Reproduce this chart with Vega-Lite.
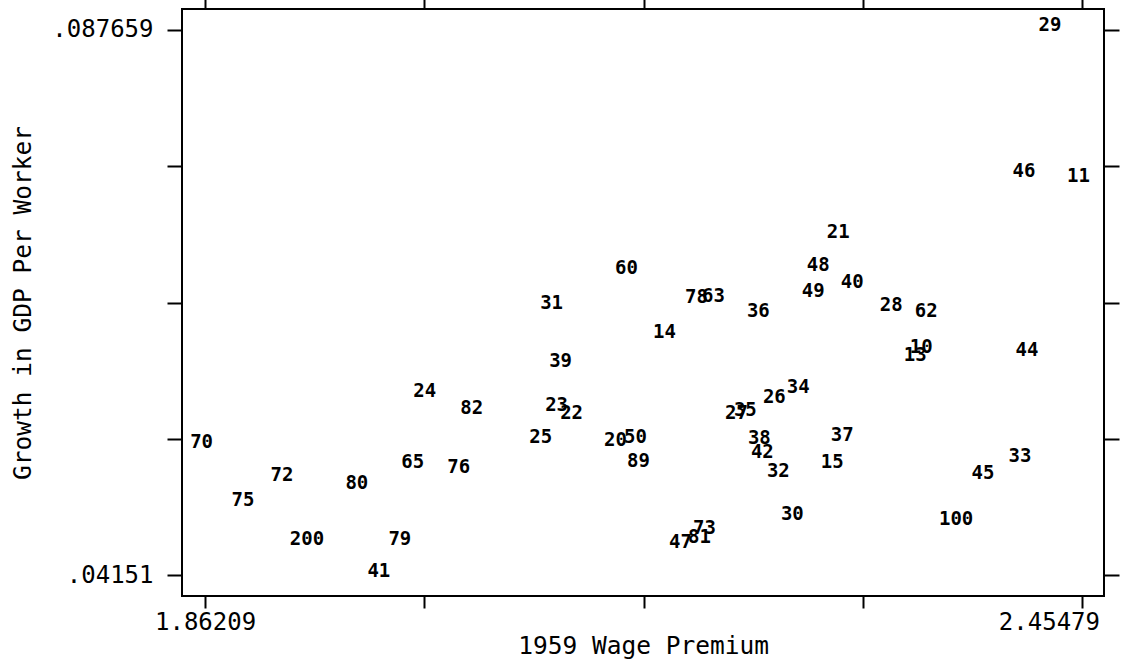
{
  "$schema": "https://vega.github.io/schema/vega-lite/v6.json",
  "width": 922,
  "height": 587,
  "autosize": "none",
  "padding": {"left": 182, "top": 9, "right": 19, "bottom": 69},
  "background": "white",
  "config": {
    "view": {"stroke": "black", "strokeWidth": 2},
    "font": "DejaVu Sans Mono",
    "axis": {
      "domain": false,
      "grid": false,
      "ticks": true,
      "tickColor": "black",
      "tickWidth": 2,
      "labelFont": "DejaVu Sans Mono",
      "labelFontSize": 24,
      "labelColor": "black",
      "labelOverlap": false,
      "labelFlush": false,
      "titleFont": "DejaVu Sans Mono",
      "titleFontSize": 24.5,
      "titleFontWeight": "normal",
      "titleColor": "black"
    }
  },
  "data": {
    "values": [
      {"label": "29", "wage_premium_1959": 2.43555, "gdp_growth": 0.087659},
      {"label": "46", "wage_premium_1959": 2.41800, "gdp_growth": 0.075338},
      {"label": "11", "wage_premium_1959": 2.45479, "gdp_growth": 0.074915},
      {"label": "21", "wage_premium_1959": 2.29244, "gdp_growth": 0.070173},
      {"label": "48", "wage_premium_1959": 2.27894, "gdp_growth": 0.067379},
      {"label": "40", "wage_premium_1959": 2.30189, "gdp_growth": 0.065939},
      {"label": "49", "wage_premium_1959": 2.27556, "gdp_growth": 0.065177},
      {"label": "60", "wage_premium_1959": 2.14933, "gdp_growth": 0.067125},
      {"label": "31", "wage_premium_1959": 2.09870, "gdp_growth": 0.064161},
      {"label": "78", "wage_premium_1959": 2.19658, "gdp_growth": 0.064669},
      {"label": "63", "wage_premium_1959": 2.20806, "gdp_growth": 0.064754},
      {"label": "36", "wage_premium_1959": 2.23844, "gdp_growth": 0.063484},
      {"label": "28", "wage_premium_1959": 2.32822, "gdp_growth": 0.063992},
      {"label": "62", "wage_premium_1959": 2.35185, "gdp_growth": 0.063484},
      {"label": "14", "wage_premium_1959": 2.17498, "gdp_growth": 0.061705},
      {"label": "39", "wage_premium_1959": 2.10477, "gdp_growth": 0.059250},
      {"label": "10", "wage_premium_1959": 2.34847, "gdp_growth": 0.060435},
      {"label": "13", "wage_premium_1959": 2.34442, "gdp_growth": 0.059758},
      {"label": "44", "wage_premium_1959": 2.42003, "gdp_growth": 0.060181},
      {"label": "24", "wage_premium_1959": 2.01297, "gdp_growth": 0.056710},
      {"label": "82", "wage_premium_1959": 2.04469, "gdp_growth": 0.055270},
      {"label": "23", "wage_premium_1959": 2.10207, "gdp_growth": 0.055524},
      {"label": "22", "wage_premium_1959": 2.11220, "gdp_growth": 0.054847},
      {"label": "34", "wage_premium_1959": 2.26544, "gdp_growth": 0.057048},
      {"label": "26", "wage_premium_1959": 2.24924, "gdp_growth": 0.056201},
      {"label": "27", "wage_premium_1959": 2.22358, "gdp_growth": 0.054847},
      {"label": "35", "wage_premium_1959": 2.22966, "gdp_growth": 0.055101},
      {"label": "25", "wage_premium_1959": 2.09127, "gdp_growth": 0.052814},
      {"label": "20", "wage_premium_1959": 2.14190, "gdp_growth": 0.052560},
      {"label": "50", "wage_premium_1959": 2.15540, "gdp_growth": 0.052814},
      {"label": "38", "wage_premium_1959": 2.23911, "gdp_growth": 0.052730},
      {"label": "37", "wage_premium_1959": 2.29514, "gdp_growth": 0.052984},
      {"label": "70", "wage_premium_1959": 1.86209, "gdp_growth": 0.052391},
      {"label": "42", "wage_premium_1959": 2.24114, "gdp_growth": 0.051544},
      {"label": "89", "wage_premium_1959": 2.15743, "gdp_growth": 0.050782},
      {"label": "65", "wage_premium_1959": 2.00487, "gdp_growth": 0.050697},
      {"label": "76", "wage_premium_1959": 2.03592, "gdp_growth": 0.050274},
      {"label": "32", "wage_premium_1959": 2.25194, "gdp_growth": 0.049935},
      {"label": "15", "wage_premium_1959": 2.28839, "gdp_growth": 0.050697},
      {"label": "33", "wage_premium_1959": 2.41530, "gdp_growth": 0.051206},
      {"label": "45", "wage_premium_1959": 2.39032, "gdp_growth": 0.049766},
      {"label": "72", "wage_premium_1959": 1.91643, "gdp_growth": 0.049597},
      {"label": "80", "wage_premium_1959": 1.96706, "gdp_growth": 0.048919},
      {"label": "75", "wage_premium_1959": 1.89011, "gdp_growth": 0.047480},
      {"label": "30", "wage_premium_1959": 2.26139, "gdp_growth": 0.046294},
      {"label": "100", "wage_premium_1959": 2.37210, "gdp_growth": 0.045871},
      {"label": "73", "wage_premium_1959": 2.20198, "gdp_growth": 0.045109},
      {"label": "81", "wage_premium_1959": 2.19861, "gdp_growth": 0.044347},
      {"label": "47", "wage_premium_1959": 2.18578, "gdp_growth": 0.043923},
      {"label": "200", "wage_premium_1959": 1.93331, "gdp_growth": 0.044177},
      {"label": "79", "wage_premium_1959": 1.99609, "gdp_growth": 0.044177},
      {"label": "41", "wage_premium_1959": 1.98191, "gdp_growth": 0.04151}
    ]
  },
  "layer": [
    {
      "mark": {"type": "text", "font": "DejaVu Sans Mono", "fontSize": 19, "fontWeight": "bold", "color": "black", "dx": -3.5, "dy": -4.5, "align": "center", "baseline": "middle"},
      "encoding": {
        "x": {
          "field": "wage_premium_1959", "type": "quantitative",
          "scale": {"domain": [1.8465, 2.4697], "zero": false, "nice": false},
          "axis": {
            "orient": "bottom",
            "values": [1.86209, 2.010265, 2.15844, 2.306615, 2.45479],
            "labelExpr": "datum.value < 1.9 ? '1.86209' : (datum.value > 2.4 ? '2.45479' : '')",
            "labelOffset": {"condition": {"test": "datum.value > 2.4", "value": -33}, "value": 0},
            "tickSize": 12,
            "labelPadding": 2,
            "title": "1959 Wage Premium",
            "titlePadding": 0
          }
        },
        "y": {
          "field": "gdp_growth", "type": "quantitative",
          "scale": {"domain": [0.039732, 0.089437], "zero": false, "nice": false},
          "axis": {
            "orient": "left",
            "values": [0.04151, 0.05304725, 0.0645845, 0.07612175, 0.087659],
            "labelExpr": "datum.value > 0.08 ? '.087659' : (datum.value < 0.042 ? '.04151' : '')",
            "tickSize": 15,
            "labelPadding": 14,
            "title": "Growth in GDP Per Worker",
            "titlePadding": 16
          }
        },
        "text": {"field": "label", "type": "nominal"}
      }
    },
    {
      "mark": {"type": "point", "opacity": 0},
      "encoding": {
        "x": {
          "field": "wage_premium_1959", "type": "quantitative",
          "scale": {"domain": [1.8465, 2.4697], "zero": false, "nice": false},
          "axis": {
            "orient": "top",
            "values": [1.86209, 2.010265, 2.15844, 2.306615, 2.45479],
            "labels": false,
            "tickSize": 12,
            "title": null
          }
        },
        "y": {
          "field": "gdp_growth", "type": "quantitative",
          "scale": {"domain": [0.039732, 0.089437], "zero": false, "nice": false},
          "axis": {
            "orient": "right",
            "values": [0.04151, 0.05304725, 0.0645845, 0.07612175, 0.087659],
            "labels": false,
            "tickSize": 15,
            "title": null
          }
        }
      }
    }
  ],
  "resolve": {"axis": {"x": "independent", "y": "independent"}}
}
